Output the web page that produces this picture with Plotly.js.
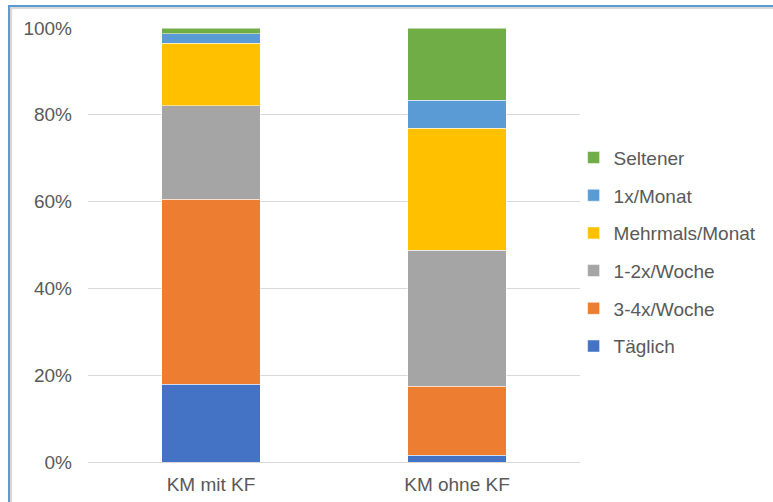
<!DOCTYPE html>
<html>
<head>
<meta charset="utf-8">
<script src="https://cdn.plot.ly/plotly-3.0.1.min.js"></script>
<style>
  html, body { margin: 0; padding: 0; background: #fff; overflow: hidden; }
  #chart { position: absolute; left: 0; top: 0; width: 773px; height: 502px; }
  #frame {
    position: absolute; left: 8px; top: 5px; width: 820px; height: 540px;
    border-left: 2px solid #5B9BD5; border-top: 2px solid #5B9BD5;
    box-shadow: inset 2px 2px 1px #d6d6d6; pointer-events: none;
  }
</style>
</head>
<body>
<div id="chart"></div>
<div id="frame"></div>
<script>
// Häufigkeit nach Gruppe, Anteile in Prozent
const categories = ['KM mit KF', 'KM ohne KF'];
const seriesNames = ['Täglich', '3-4x/Woche', '1-2x/Woche', 'Mehrmals/Monat', '1x/Monat', 'Seltener'];
const taeglich      = [17.9, 1.5];
const dreiVierWoche = [42.7, 16.0];
const einZweiWoche  = [21.5, 31.3];
const mehrmalsMonat = [14.4, 28.1];
const einmalMonat   = [2.2, 6.4];
const seltener      = [1.3, 16.7];
const tickVals   = [0, 20, 40, 60, 80, 100];
const tickLabels = ['0%', '20%', '40%', '60%', '80%', '100%'];

const seriesValues = [taeglich, dreiVierWoche, einZweiWoche, mehrmalsMonat, einmalMonat, seltener];
const colors = ['#4472C4', '#ED7D31', '#A5A5A5', '#FFC000', '#5B9BD5', '#70AD47'];

// legend lists the top segment first
const traces = seriesNames.map((name, i) => ({
  type: 'bar',
  name: name,
  x: categories,
  y: seriesValues[i],
  legendgroup: 'g' + i,
  legendrank: 1000 - i,
  marker: { color: colors[i], line: { color: '#ffffff', width: 0.5 } },
  hoverinfo: 'x+y+name'
}));

const font = { family: 'Liberation Sans, Arial, sans-serif', size: 19, color: '#595959' };

const layout = {
  width: 773,
  height: 502,
  margin: { l: 88, r: 192, t: 28, b: 40 },
  paper_bgcolor: '#ffffff',
  plot_bgcolor: '#ffffff',
  barmode: 'stack',
  bargap: 0.6,
  font: font,
  showlegend: true,
  legend: {
    x: 0.985, xanchor: 'left',
    y: 0.745, yanchor: 'top',
    traceorder: 'grouped',
    tracegroupgap: 10,
    font: font,
    bgcolor: 'rgba(0,0,0,0)'
  },
  xaxis: {
    type: 'category',
    showgrid: false,
    showline: false,
    zeroline: false,
    ticks: '',
    ticklabelstandoff: 9,
    tickfont: font
  },
  yaxis: {
    range: [0, 100],
    tickvals: tickVals,
    ticktext: tickLabels,
    showgrid: true,
    gridcolor: '#D9D9D9',
    gridwidth: 1,
    zeroline: true,
    zerolinecolor: '#D9D9D9',
    zerolinewidth: 1,
    showline: false,
    ticks: '',
    ticklabelstandoff: 15,
    tickfont: font
  }
};

Plotly.newPlot('chart', traces, layout, { displayModeBar: false, staticPlot: true });
</script>
</body>
</html>
